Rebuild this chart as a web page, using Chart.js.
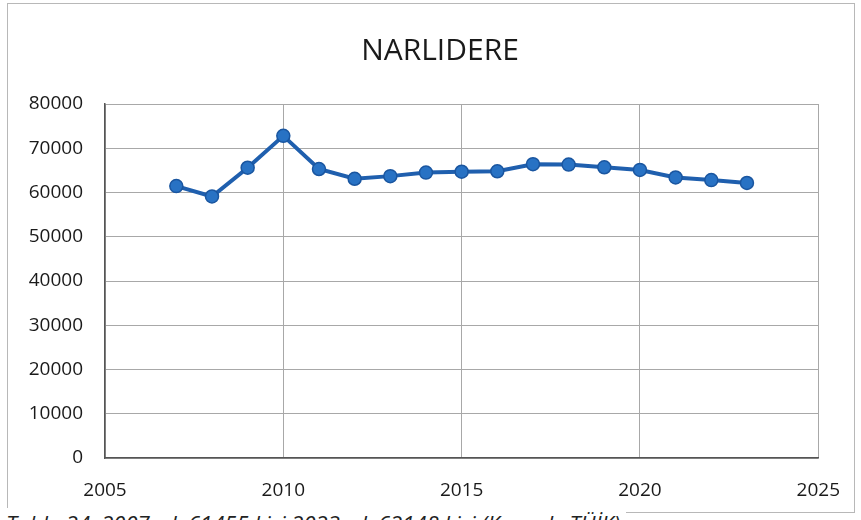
<!DOCTYPE html>
<html lang="tr">
<head>
<meta charset="utf-8">
<title>NARLIDERE</title>
<script src="https://cdn.jsdelivr.net/npm/chart.js@4"></script>
<style>
  html, body { margin: 0; padding: 0; background: #fff; }
  #wrap { position: relative; width: 861px; height: 520px; overflow: hidden; }
  #kutu {
    position: absolute; left: 7px; top: 3px; width: 848px; height: 510px;
    border: 1px solid #b8b8b8; box-sizing: border-box;
  }
  #grafik { position: absolute; left: 0; top: 0; }
  #aciklama {
    position: absolute; left: 6px; top: 508px; padding-right: 6px;
    background: #fff; font-family: "Open Sans", sans-serif; font-style: italic;
    font-size: 22px; color: #222; white-space: nowrap; line-height: 30px;
  }
</style>
</head>
<body>
<div id="wrap">
  <div id="kutu"></div>
  <canvas id="grafik" width="861" height="520"></canvas>
  <div id="aciklama">Tablo 24. 2007 yılı 61455 kişi 2023 yılı 62148 kişi (Kaynak: TÜİK)</div>
</div>
<script>
// ==========================
//  Veriler
// ==========================
const yillar = [2007, 2008, 2009, 2010, 2011, 2012, 2013, 2014, 2015, 2016, 2017, 2018, 2019, 2020, 2021, 2022, 2023];
const nufus = [61455, 59100, 65600, 72800, 65300, 63100, 63700, 64500, 64700, 64800, 66400, 66300, 65700, 65100, 63400, 62800, 62148];
const yilTikleri = [2005, 2010, 2015, 2020, 2025];
const nufusTikleri = [0, 10000, 20000, 30000, 40000, 50000, 60000, 70000, 80000];

const noktalar = yillar.map((y, i) => ({ x: y, y: nufus[i] }));

// başlığı kutunun ortasına kaydır (sol tarafı daralt)
const baslikKaydir = {
  id: "baslikKaydir",
  afterLayout(chart) {
    const t = chart.titleBlock;
    if (t) { t.left += 58; t.width -= 58; }
  },
};

// ==========================
//  Grafik
// ==========================
const ctx = document.getElementById("grafik").getContext("2d");
new Chart(ctx, {
  type: "line",
  data: {
    datasets: [
      {
        label: "NARLIDERE",
        data: noktalar,
        borderColor: "#1f5fae",
        borderWidth: 4,
        backgroundColor: "#2872c4",
        pointBorderColor: "#1a56a0",
        pointBorderWidth: 1.5,
        pointRadius: 6.5,
        tension: 0,
      },
    ],
  },
  plugins: [baslikKaydir],
  options: {
    responsive: false,
    animation: false,
    layout: { padding: { left: 0, right: 39, top: 0, bottom: 0 } },
    plugins: {
      legend: { display: false },
      tooltip: { enabled: false },
      title: {
        display: true,
        text: "NARLIDERE",
        color: "#1a1a1a",
        font: { family: "'Open Sans', sans-serif", size: 30, weight: "normal", lineHeight: 1.2 },
        padding: { top: 33, bottom: 35 },
      },
    },
    scales: {
      x: {
        type: "linear",
        min: 2005,
        max: 2025,
        afterBuildTicks: (ax) => { ax.ticks = yilTikleri.map((v) => ({ value: v })); },
        afterFit: (ax) => { ax.height = 62; },
        ticks: {
          color: "#1a1a1a",
          padding: 21,
          font: { family: "'Open Sans', sans-serif", size: 19 },
          callback: (v) => String(v),
        },
        grid: { color: "#a8a8a8", lineWidth: 1, drawTicks: false },
        border: { color: "#555", width: 1.5 },
      },
      y: {
        min: 0,
        max: 80000,
        afterBuildTicks: (ax) => { ax.ticks = nufusTikleri.map((v) => ({ value: v })); },
        afterFit: (ax) => { ax.width = 105; },
        ticks: {
          color: "#1a1a1a",
          padding: 22,
          font: { family: "'Open Sans', sans-serif", size: 19 },
          callback: (v) => String(v),
        },
        grid: { color: "#a8a8a8", lineWidth: 1, drawTicks: false },
        border: { color: "#555", width: 1.5 },
      },
    },
  },
});
</script>
</body>
</html>
